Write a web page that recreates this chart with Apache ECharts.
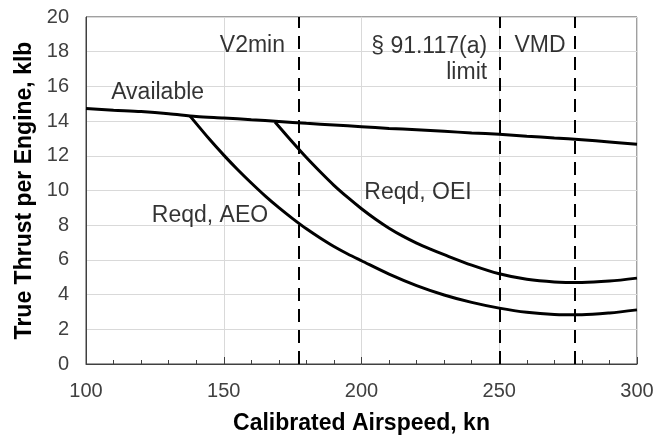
<!DOCTYPE html>
<html>
<head>
<meta charset="utf-8">
<script src="https://cdn.jsdelivr.net/npm/echarts@6/dist/echarts.min.js"></script>
<style>html,body{margin:0;padding:0;background:#fff}#c{width:662px;height:438px}</style>
</head>
<body>
<div id="c"></div>
<script>
// ---- data ----
const availSpeed  = [100,110,120,130,140,150,160,170,180,190,200,210,220,230,240,250,260,270,280,290,300];
const availThrust = [14.72,14.63,14.55,14.43,14.27,14.18,14.08,13.98,13.87,13.78,13.68,13.58,13.5,13.41,13.32,13.24,13.13,13.03,12.93,12.8,12.66];

const aeoSpeed  = [137.7,145,150,155,160,165,170,175,180,185,190,195,200,210,220,230,240,250,260,270,280,290,300];
const aeoThrust = [14.3,12.92,12.04,11.21,10.43,9.69,9.01,8.38,7.79,7.26,6.77,6.34,5.95,5.18,4.52,3.98,3.55,3.22,2.98,2.86,2.84,2.94,3.12];

const oeiSpeed  = [168.6,175,180,185,190,195,200,205,210,215,220,225,230,240,250,260,270,280,290,300];
const oeiThrust = [13.95,12.78,11.9,11.08,10.3,9.6,8.95,8.36,7.83,7.37,6.97,6.62,6.3,5.7,5.2,4.88,4.73,4.7,4.78,4.95];

const refSpeeds = [177.2, 250, 277.5];          // V2min, §91.117(a) limit, VMD
const xTicks = {min:100, max:300, step:50};
const yTicks = {min:0, max:20, step:2};

const xTitle = 'Calibrated Airspeed, kn';
const yTitle = 'True Thrust per Engine, klb';
const seriesNames = ['Available', 'Reqd, AEO', 'Reqd, OEI'];

// ---- chart ----
const pairs = (xs, ys) => xs.map((x, i) => [x, ys[i]]);
const FONT = '"Liberation Sans", Arial, sans-serif';
const curve = (name, xs, ys, extra) => Object.assign({
  name, type:'line', data:pairs(xs, ys), smooth:0.3, showSymbol:false, symbol:'none',
  lineStyle:{color:'#000', width:3}, z:3, silent:true
}, extra || {});

const annLabel = (text, x, y, align, extra) => ({
  value:[x, y],
  label:Object.assign({show:true, formatter:text, position:'inside', align, verticalAlign:'middle',
    fontFamily:FONT, fontSize:23, color:'#000'}, extra || {})
});

const chart = echarts.init(document.getElementById('c'), null, {renderer:'canvas'});
chart.setOption({
  animation:false,
  backgroundColor:'#fff',
  grid:{left:86, right:25, top:17, bottom:74, outerBoundsMode:'none', containLabel:false,
        show:true, borderColor:'#404040', borderWidth:1},
  xAxis:{
    type:'value', min:xTicks.min, max:xTicks.max, interval:xTicks.step,
    name:xTitle, nameLocation:'middle', nameGap:48,
    nameTextStyle:{fontFamily:FONT, fontSize:23, fontWeight:'bold', color:'#000'},
    axisLine:{show:true, lineStyle:{color:'#404040', width:1}},
    axisTick:{show:true, inside:true, length:7, lineStyle:{color:'#404040'}},
    minorTick:{show:true, splitNumber:5, length:4, lineStyle:{color:'#404040'}},
    axisLabel:{fontFamily:FONT, fontSize:20, color:'#404040', margin:17},
    splitLine:{show:true, lineStyle:{color:'#d9d9d9', width:1}}
  },
  yAxis:{
    type:'value', min:yTicks.min, max:yTicks.max, interval:yTicks.step,
    name:yTitle, nameLocation:'middle', nameGap:50, nameRotate:90,
    nameTextStyle:{fontFamily:FONT, fontSize:23, fontWeight:'bold', color:'#000'},
    axisLine:{show:true, lineStyle:{color:'#404040', width:1}},
    axisTick:{show:false},
    axisLabel:{fontFamily:FONT, fontSize:20, color:'#404040', margin:17},
    splitLine:{show:true, lineStyle:{color:'#d9d9d9', width:1}}
  },
  series:[
    curve(seriesNames[0], availSpeed, availThrust, {
      markLine:{
        silent:true, symbol:'none', label:{show:false},
        lineStyle:{color:'#000', width:2, type:[13,8]},
        data:refSpeeds.map(v => ({xAxis:v}))
      }
    }),
    curve(seriesNames[1], aeoSpeed, aeoThrust),
    curve(seriesNames[2], oeiSpeed, oeiThrust),
    {
      type:'scatter', symbolSize:0, silent:true, z:5,
      data:[
        annLabel(seriesNames[0], 126, 15.65, 'center'),
        annLabel('V2min', 160.4, 18.35, 'center'),
        annLabel('§ 91.117(a)\nlimit', 245.6, 17.56, 'right', {lineHeight:26}),
        annLabel('VMD', 264.8, 18.35, 'center'),
        annLabel(seriesNames[1], 145, 8.55, 'center'),
        annLabel(seriesNames[2], 220.5, 9.86, 'center')
      ]
    }
  ]
});
</script>
</body>
</html>
